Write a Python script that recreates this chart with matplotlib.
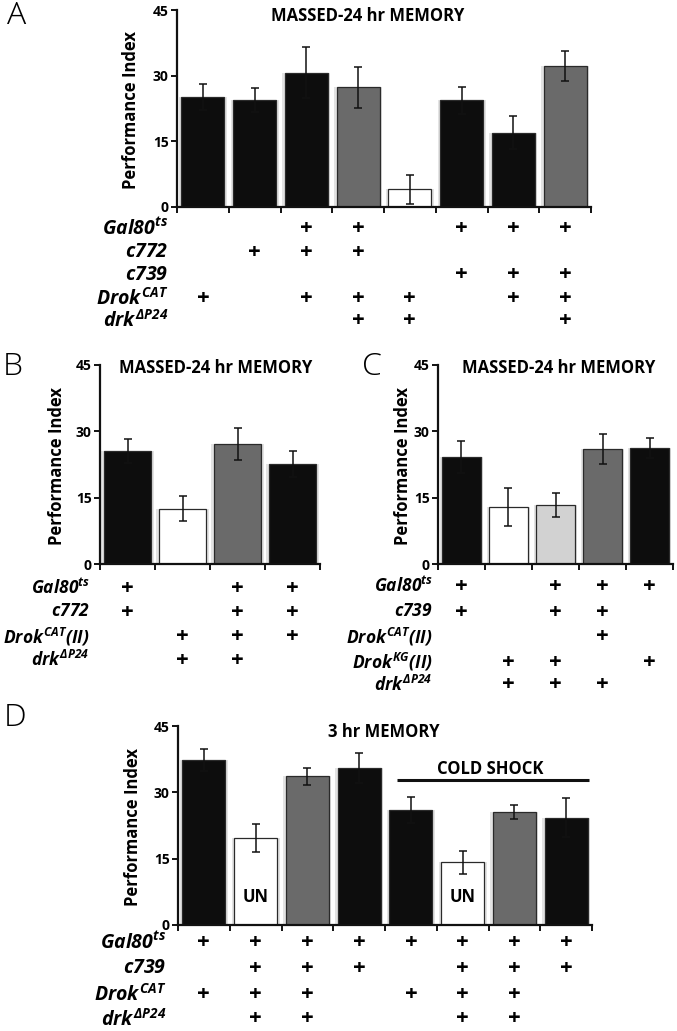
import numpy as np
import matplotlib
matplotlib.use("Agg")
import matplotlib.pyplot as plt
from matplotlib.transforms import blended_transform_factory

plt.rcParams['font.family'] = ['Open Sans', 'DejaVu Sans']
plt.rcParams['mathtext.fontset'] = 'custom'
plt.rcParams['mathtext.it'] = 'Open Sans:italic:bold'
plt.rcParams['mathtext.rm'] = 'Open Sans:italic:bold'
plt.rcParams['mathtext.bf'] = 'Open Sans:italic:bold'

# ---------------- data ----------------
# Panel A: MASSED-24 hr MEMORY
a_values = [25.2, 24.4, 30.7, 27.3, 4.0, 24.4, 17.0, 32.2]
a_errors = [3.0, 2.8, 5.8, 4.6, 3.3, 3.1, 3.8, 3.4]
a_colors = ['#0d0d0d', '#0d0d0d', '#0d0d0d', '#6a6a6a', '#ffffff', '#0d0d0d', '#0d0d0d', '#6a6a6a']
a_rows = [r'$Gal80^{ts}$', r'$c772$', r'$c739$', r'$Drok^{CAT}$', r'$drk^{\Delta P24}$']
a_marks = [[0, 0, 1, 1, 0, 1, 1, 1],
           [0, 1, 1, 1, 0, 0, 0, 0],
           [0, 0, 0, 0, 0, 1, 1, 1],
           [1, 0, 1, 1, 1, 0, 1, 1],
           [0, 0, 0, 1, 1, 0, 0, 1]]

# Panel B
b_values = [25.6, 12.5, 27.2, 22.6]
b_errors = [2.65, 2.8, 3.6, 3.0]
b_colors = ['#0d0d0d', '#ffffff', '#6a6a6a', '#0d0d0d']
b_rows = [r'$Gal80^{ts}$', r'$c772$', r'$Drok^{CAT}(II)$', r'$drk^{\Delta P24}$']
b_marks = [[1, 0, 1, 1],
           [1, 0, 1, 1],
           [0, 1, 1, 1],
           [0, 1, 1, 0]]

# Panel C
c_values = [24.2, 12.9, 13.4, 26.0, 26.3]
c_errors = [3.7, 4.2, 2.7, 3.3, 2.3]
c_colors = ['#0d0d0d', '#ffffff', '#d2d2d2', '#6a6a6a', '#0d0d0d']
c_rows = [r'$Gal80^{ts}$', r'$c739$', r'$Drok^{CAT}(II)$', r'$Drok^{KG}(II)$', r'$drk^{\Delta P24}$']
c_marks = [[1, 0, 1, 1, 1],
           [1, 0, 1, 1, 0],
           [0, 0, 0, 1, 0],
           [0, 1, 1, 0, 1],
           [0, 1, 1, 1, 0]]

# Panel D: 3 hr MEMORY
d_values = [37.3, 19.6, 33.6, 35.5, 26.0, 14.2, 25.5, 24.3]
d_errors = [2.5, 3.2, 2.0, 3.4, 3.0, 2.6, 1.6, 4.5]
d_colors = ['#0d0d0d', '#ffffff', '#6a6a6a', '#0d0d0d', '#0d0d0d', '#ffffff', '#6a6a6a', '#0d0d0d']
d_rows = [r'$Gal80^{ts}$', r'$c739$', r'$Drok^{CAT}$', r'$drk^{\Delta P24}$']
d_marks = [[1, 1, 1, 1, 1, 1, 1, 1],
           [0, 1, 1, 1, 0, 1, 1, 1],
           [1, 1, 1, 0, 1, 1, 1, 0],
           [0, 1, 1, 0, 0, 1, 1, 0]]
d_un_bars = [1, 5]

yticks = [0, 15, 30, 45]

# ---------------- figure ----------------
W, H = 677, 1031
fig = plt.figure(figsize=(W / 100, H / 100), dpi=100)


def add_ax(x0, x1, ytop, ybot):
    return fig.add_axes([x0 / W, 1 - ybot / H, (x1 - x0) / W, (ybot - ytop) / H])


def fy(py):
    return 1 - py / H


def fx(px):
    return px / W


def panel(ax, values, errors, colors, rows, marks, label_right, row_ys, ylab_x,
          width=0.83, row_size=14):
    n = len(values)
    x = np.arange(n)
    ax.bar(x, values, width=width + 0.1, color='#e3e3e3', linewidth=0, zorder=1)
    ax.bar(x, values, width=width, color=colors, edgecolor='#2a2a2a', linewidth=0.9, zorder=2)
    ax.errorbar(x, values, yerr=errors, fmt='none', ecolor='#111111', elinewidth=1.1,
                capsize=3, capthick=1.1, zorder=3)
    ax.set_xlim(-0.5, n - 0.5)
    ax.set_ylim(0, 45)
    for s in ['top', 'right']:
        ax.spines[s].set_visible(False)
    for s in ['left', 'bottom']:
        ax.spines[s].set_linewidth(1.6)
        ax.spines[s].set_color('#111111')
        ax.spines[s].set_zorder(5)
    ax.set_yticks(yticks)
    ax.set_yticklabels([str(t) for t in yticks], fontsize=10, fontweight='bold')
    ax.set_xticks(np.arange(n + 1) - 0.5)
    ax.set_xticklabels([])
    ax.tick_params(axis='both', direction='out', length=4, width=1.4, color='#111111', pad=2)
    ax.patch.set_alpha(0)
    pos = ax.get_position()
    fig.text(fx(ylab_x), pos.y0 + pos.height * 0.49, 'Performance Index', rotation=90,
             ha='center', va='center', fontsize=12, fontweight='bold')
    tr = blended_transform_factory(ax.transData, fig.transFigure)
    for label, mk, ry in zip(rows, marks, row_ys):
        fig.text(fx(label_right), fy(ry), label, ha='right', va='center', fontsize=row_size)
        for i, m in enumerate(mk):
            if m:
                ax.text(i, fy(ry), '+', transform=tr, ha='center', va='center',
                        fontsize=16, fontweight='bold', clip_on=False)


title_kw = dict(ha='center', va='center', fontsize=12, fontweight='bold')
letter_kw = dict(ha='center', va='center', fontsize=23, fontweight='light')

# Panel A
axA = add_ax(177, 591, 10, 207)
panel(axA, a_values, a_errors, a_colors, a_rows, a_marks, 168, [228, 252, 275, 298, 320], 131)
fig.text(fx(368), fy(16), 'MASSED-24 hr MEMORY', **title_kw)
fig.text(fx(17), fy(16), 'A', **letter_kw)

# Panel B
axB = add_ax(100, 320, 365, 564)
panel(axB, b_values, b_errors, b_colors, b_rows, b_marks, 90, [588, 612, 637, 660], 57,
      width=0.86, row_size=12.5)
fig.text(fx(216), fy(368), 'MASSED-24 hr MEMORY', **title_kw)
fig.text(fx(13), fy(367), 'B', **letter_kw)

# Panel C
axC = add_ax(438, 673, 365, 564)
panel(axC, c_values, c_errors, c_colors, c_rows, c_marks, 433, [586, 612, 637, 662, 685], 403,
      width=0.83, row_size=12.5)
fig.text(fx(559), fy(368), 'MASSED-24 hr MEMORY', **title_kw)
fig.text(fx(372), fy(367), 'C', **letter_kw)

# Panel D
axD = add_ax(178, 592, 726, 925)
panel(axD, d_values, d_errors, d_colors, d_rows, d_marks, 166, [942, 968, 994, 1019], 133)
fig.text(fx(384), fy(732), '3 hr MEMORY', **title_kw)
fig.text(fx(15), fy(718), 'D', **letter_kw)
for i in d_un_bars:
    axD.text(i, 6.4, 'UN', ha='center', va='center', fontsize=12, fontweight='bold', zorder=4)
axD.plot([3.73, 7.44], [32.7, 32.7], color='#111111', linewidth=2.2, clip_on=False,
         solid_capstyle='butt', zorder=4)
axD.text(5.53, 35.3, 'COLD SHOCK', ha='center', va='center', fontsize=12, fontweight='bold')

fig.savefig('out.png', dpi=100)
